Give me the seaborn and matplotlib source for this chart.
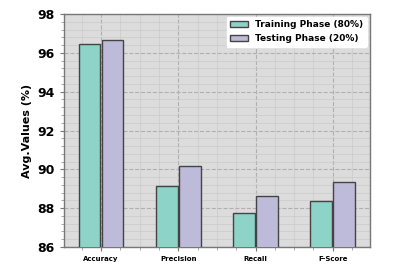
import matplotlib
matplotlib.use("Agg")
import matplotlib.pyplot as plt
import seaborn as sns
import pandas as pd
from matplotlib.ticker import AutoMinorLocator, MultipleLocator

metrics = ["Accuracy", "Precision", "Recall", "F-Score"]
training = [96.45, 89.12, 87.74, 88.36]
testing = [96.66, 90.16, 88.62, 89.34]
series_names = ["Training Phase (80%)", "Testing Phase (20%)"]
colors = ["#8dd3c7", "#bebada"]

df = pd.DataFrame({
    "Metric": metrics * 2,
    "Value": training + testing,
    "Phase": [series_names[0]] * 4 + [series_names[1]] * 4,
})

sns.set_style("whitegrid")
plt.rcParams['font.family'] = ['DejaVu Sans']

fig = plt.figure(figsize=(4.02, 2.76), dpi=100)
ax = fig.add_axes([0.159, 0.105, 0.761, 0.844])
ax.set_facecolor("#dcdcdc")

sns.barplot(data=df, x="Metric", y="Value", hue="Phase", palette=colors,
            saturation=1, width=0.6, gap=0.06, edgecolor="#444444", linewidth=1.0,
            ax=ax, zorder=3)

ax.set_ylim(86, 98)
ax.yaxis.set_major_locator(MultipleLocator(2))
ax.yaxis.set_minor_locator(AutoMinorLocator(5))
ax.xaxis.set_minor_locator(AutoMinorLocator(4))
ax.set_xlim(-0.48, 3.48)

ax.grid(which="major", color="#b0b0b0", linestyle="--", linewidth=0.8, zorder=0)
ax.grid(which="minor", color="#cacaca", linestyle="-", linewidth=0.5, zorder=0)
ax.set_axisbelow(True)

for s in ax.spines.values():
    s.set_color("#777777")
    s.set_linewidth(1.0)

ax.tick_params(axis="y", which="major", labelsize=9, length=3, color="#777777",
               left=True, labelcolor="black")
ax.tick_params(axis="y", which="minor", length=2, color="#999999", left=True)
ax.tick_params(axis="x", which="major", labelsize=5, length=3, color="#777777",
               bottom=True, labelcolor="black")
ax.tick_params(axis="x", which="minor", length=2, color="#999999", bottom=True)
for lbl in ax.get_xticklabels() + ax.get_yticklabels():
    lbl.set_fontweight("bold")

ax.set_xlabel("")
ax.set_ylabel("Avg.Values (%)", fontsize=8, fontweight="bold", color="black")

leg = ax.legend(loc="upper right", fontsize=6.5, frameon=True, framealpha=1.0,
                facecolor="white", edgecolor="white", borderaxespad=0.3,
                handlelength=2.0, handleheight=0.7)
for t in leg.get_texts():
    t.set_fontweight("bold")
    t.set_color("black")

fig.savefig("out.png", dpi=100)
